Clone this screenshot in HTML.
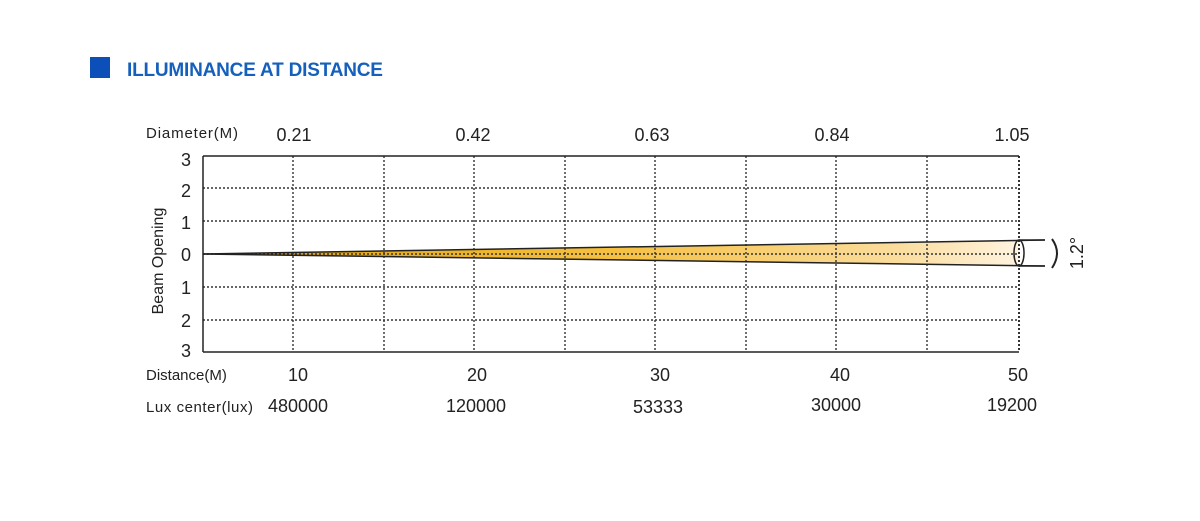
<!DOCTYPE html>
<html><head><meta charset="utf-8"><style>
html,body{margin:0;padding:0;background:#fff;width:1200px;height:521px;overflow:hidden}
svg text{font-family:"Liberation Sans",sans-serif}
</style></head><body>
<svg width="1200" height="521" xmlns="http://www.w3.org/2000/svg">
<defs>
<linearGradient id="g" x1="0" x2="1" y1="0" y2="0">
<stop offset="0" stop-color="#e0a000"/>
<stop offset="0.5" stop-color="#f5c040"/>
<stop offset="0.85" stop-color="#fadc9c"/>
<stop offset="1" stop-color="#fff4e0"/>
</linearGradient>
</defs>
<rect x="90" y="57" width="20" height="21" fill="#0d4fb8"/>
<text x="127" y="76" font-size="19" font-weight="bold" fill="#1560bd" letter-spacing="-0.2">ILLUMINANCE AT DISTANCE</text>
<polygon points="203,254 1019,240 1019,266" fill="url(#g)"/>
<g stroke="#333" stroke-width="1.4" stroke-dasharray="2,2" fill="none">
<line x1="203" y1="188" x2="1019" y2="188"/>
<line x1="203" y1="221" x2="1019" y2="221"/>
<line x1="203" y1="254" x2="1019" y2="254"/>
<line x1="203" y1="287" x2="1019" y2="287"/>
<line x1="203" y1="320" x2="1019" y2="320"/>
<line x1="293" y1="156" x2="293" y2="352"/>
<line x1="384" y1="156" x2="384" y2="352"/>
<line x1="474" y1="156" x2="474" y2="352"/>
<line x1="565" y1="156" x2="565" y2="352"/>
<line x1="655" y1="156" x2="655" y2="352"/>
<line x1="746" y1="156" x2="746" y2="352"/>
<line x1="836" y1="156" x2="836" y2="352"/>
<line x1="927" y1="156" x2="927" y2="352"/>
<line x1="1019" y1="156" x2="1019" y2="352" stroke-width="2"/>
</g>
<g stroke="#222" stroke-width="1.5" fill="none">
<line x1="203" y1="156" x2="1019" y2="156"/>
<line x1="203" y1="156" x2="203" y2="352"/>
<line x1="203" y1="352" x2="1019" y2="352"/>
<line x1="203" y1="254" x2="1045" y2="240"/>
<line x1="203" y1="254" x2="1045" y2="266"/>
<line x1="1019" y1="240" x2="1045" y2="240"/>
<line x1="1019" y1="266" x2="1045" y2="266"/>
<ellipse cx="1019" cy="253" rx="5" ry="13"/>
<path d="M1052,239 Q1062,253 1052,268" stroke-width="2"/>
</g>
<text x="1077" y="253" font-size="18" fill="#222" text-anchor="middle" transform="rotate(-90 1077 253)" dy="6">1.2°</text>
<g font-size="15" fill="#222">
<text x="146" y="138" textLength="92">Diameter(M)</text>
<text x="146" y="380">Distance(M)</text>
<text x="146" y="412" textLength="107">Lux center(lux)</text>
</g>
<g font-size="18" fill="#222" text-anchor="middle">
<text x="294" y="141">0.21</text>
<text x="473" y="141">0.42</text>
<text x="652" y="141">0.63</text>
<text x="832" y="141">0.84</text>
<text x="1012" y="141">1.05</text>
<text x="298" y="381">10</text>
<text x="477" y="381">20</text>
<text x="660" y="381">30</text>
<text x="840" y="381">40</text>
<text x="1018" y="381">50</text>
<text x="298" y="412">480000</text>
<text x="476" y="412">120000</text>
<text x="658" y="413">53333</text>
<text x="836" y="411">30000</text>
<text x="1012" y="411">19200</text>
<text x="186" y="166">3</text>
<text x="186" y="197">2</text>
<text x="186" y="229">1</text>
<text x="186" y="261">0</text>
<text x="186" y="294">1</text>
<text x="186" y="327">2</text>
<text x="186" y="357">3</text>
</g>
<text x="158" y="261" font-size="16" fill="#222" text-anchor="middle" transform="rotate(-90 158 261)" dy="5">Beam Opening</text>
</svg>
</body></html>
